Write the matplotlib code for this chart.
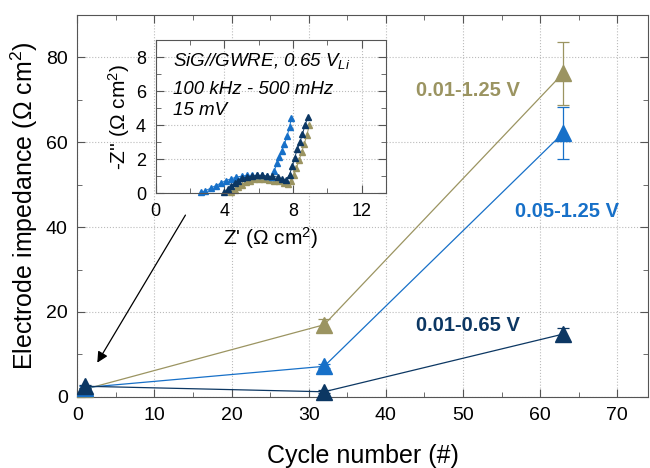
import matplotlib
matplotlib.use("Agg")
import matplotlib.pyplot as plt
from matplotlib.ticker import MultipleLocator

plt.rcParams['font.family'] = ['Liberation Sans', 'DejaVu Sans']
plt.rcParams['mathtext.fontset'] = 'custom'
plt.rcParams['mathtext.rm'] = 'Liberation Sans'
plt.rcParams['mathtext.it'] = 'Liberation Sans:italic'

OLIVE = '#9b9461'
BLUE = '#1770c8'
NAVY = '#0c3763'
SPINE = '#555555'

# main chart data
cycles = [1, 32, 63]
imp_0125 = [1.8, 17.0, 76.3]
err_0125 = [0.3, 1.3, 7.4]
imp_05125 = [2.2, 7.2, 62.2]
err_05125 = [0.3, 0.5, 6.2]
imp_0065 = [2.5, 1.2, 14.8]
err_0065 = [0.3, 0.3, 1.5]

# inset Nyquist data (Z', -Z'')
blue_re = [2.65, 2.9, 3.2, 3.5, 3.8, 4.1, 4.4, 4.7, 5.0, 5.3, 5.6, 5.9, 6.2, 6.5,
           6.75, 6.9, 7.05, 7.2, 7.35, 7.5, 7.65, 7.8, 7.9]
blue_im = [0.05, 0.15, 0.3, 0.45, 0.6, 0.75, 0.85, 0.95, 1.0, 1.05, 1.05, 1.05, 1.05,
           1.0, 0.95, 1.3, 1.75, 2.15, 2.5, 2.9, 3.35, 3.9, 4.4]
navy_re = [4.0, 4.2, 4.4, 4.6, 4.8, 5.05, 5.3, 5.6, 5.9, 6.2, 6.5, 6.8, 7.1, 7.35,
           7.6, 7.8, 7.95, 8.1, 8.25, 8.4, 8.55, 8.7, 8.85]
navy_im = [0.05, 0.25, 0.45, 0.6, 0.75, 0.88, 0.95, 1.0, 1.05, 1.05, 1.0, 1.0, 0.95,
           0.85, 0.8, 1.1, 1.6, 2.1, 2.6, 3.0, 3.5, 4.0, 4.45]
olive_re = [4.4, 4.6, 4.8, 5.0, 5.25, 5.5, 5.75, 6.0, 6.3, 6.6, 6.9, 7.2, 7.45, 7.7,
            7.9, 8.05, 8.2, 8.35, 8.5, 8.65, 8.8, 8.95]
olive_im = [0.05, 0.2, 0.35, 0.5, 0.65, 0.75, 0.82, 0.85, 0.85, 0.8, 0.75, 0.7, 0.6,
            0.55, 0.75, 1.1, 1.5, 1.95, 2.4, 2.9, 3.4, 4.0]


def style_axes(ax, size, pad=6):
    for s in ax.spines.values():
        s.set_color(SPINE)
    ax.tick_params(which='both', direction='in', top=True, right=True,
                   color=SPINE, labelsize=size, pad=pad)
    ax.tick_params(which='major', length=6)
    ax.tick_params(which='minor', length=3.5)
    ax.grid(which='major', linestyle=':', color='#bbbbbb', linewidth=0.8)
    ax.set_axisbelow(True)


fig = plt.figure(figsize=(6.5, 4.68), dpi=100)
ax = fig.add_axes([0.119, 0.152, 0.878, 0.816])

for y, e, c in [(imp_0125, err_0125, OLIVE), (imp_05125, err_05125, BLUE),
                (imp_0065, err_0065, NAVY)]:
    ax.errorbar(cycles, y, yerr=e, color=c, marker='^', markersize=11,
                linewidth=0.9, elinewidth=0.9, capsize=4, capthick=0.9,
                clip_on=False, zorder=3)

ax.set_xlim(0, 74)
ax.set_ylim(0, 90)
ax.xaxis.set_major_locator(MultipleLocator(10))
ax.xaxis.set_minor_locator(MultipleLocator(5))
ax.yaxis.set_major_locator(MultipleLocator(20))
ax.yaxis.set_minor_locator(MultipleLocator(10))
style_axes(ax, 14, pad=7)
ax.set_xlabel("Cycle number (#)", fontsize=18, labelpad=15)
ax.set_ylabel(r"Electrode impedance ($\Omega$ cm$^2$)", fontsize=18, labelpad=4)

ax.text(50.7, 72.3, "0.01-1.25 V", color=OLIVE, fontsize=14.5, fontweight='bold',
        ha='center', va='center')
ax.text(63.5, 43.8, "0.05-1.25 V", color=BLUE, fontsize=14.5, fontweight='bold',
        ha='center', va='center')
ax.text(50.7, 16.8, "0.01-0.65 V", color=NAVY, fontsize=14.5, fontweight='bold',
        ha='center', va='center')

ax.annotate("", xy=(2.4, 7.5), xytext=(14.2, 43.4),
            arrowprops=dict(arrowstyle='-|>', color='black', lw=0.9,
                            mutation_scale=16))

# inset
ins = fig.add_axes([0.2395, 0.587, 0.354, 0.3276])
for re_, im_, c in [(olive_re, olive_im, OLIVE), (blue_re, blue_im, BLUE),
                    (navy_re, navy_im, NAVY)]:
    ins.plot(re_, im_, color=c, marker='^', markersize=5, linewidth=0.7,
             clip_on=False)
ins.set_xlim(0, 13.4)
ins.set_ylim(0, 9)
ins.xaxis.set_major_locator(MultipleLocator(4))
ins.xaxis.set_minor_locator(MultipleLocator(2))
ins.yaxis.set_major_locator(MultipleLocator(2))
ins.yaxis.set_minor_locator(MultipleLocator(1))
style_axes(ins, 13, pad=7)
ins.set_xlabel(r"Z' ($\Omega$ cm$^2$)", fontsize=15, labelpad=4)
ins.set_ylabel(r"-Z'' ($\Omega$ cm$^2$)", fontsize=15, labelpad=3)
ins.text(0.075, 0.86, r"SiG//GWRE, 0.65 V$_{Li}$", transform=ins.transAxes,
         fontsize=13.5, style='italic', va='center')
ins.text(0.075, 0.675, "100 kHz - 500 mHz", transform=ins.transAxes,
         fontsize=13.5, style='italic', va='center')
ins.text(0.075, 0.54, "15 mV", transform=ins.transAxes,
         fontsize=13.5, style='italic', va='center')

fig.savefig("out.png", dpi=100)
